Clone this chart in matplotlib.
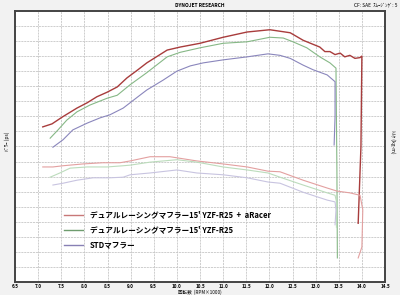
import matplotlib
matplotlib.use("Agg")
import matplotlib.pyplot as plt

plt.rcParams['font.family'] = ['Noto Sans CJK JP', 'DejaVu Sans']

# power (ps) vs rpm x1000
rpm_red = [7.10, 7.30, 7.52, 7.84, 8.06, 8.27, 8.49, 8.71, 8.92, 9.16, 9.35, 9.79, 10.07, 10.50,
           11.00, 11.52, 12.01, 12.45, 12.73, 13.09, 13.20, 13.31, 13.42, 13.53, 13.63, 13.74,
           13.85, 13.96, 14.00, 13.98, 13.92]
pw_red = [20.6, 21.0, 21.9, 23.1, 23.8, 24.6, 25.2, 25.9, 27.1, 28.2, 29.1, 30.8, 31.2, 31.7,
          32.5, 33.2, 33.5, 33.1, 32.1, 31.2, 30.6, 30.6, 30.2, 30.4, 29.9, 30.1,
          29.7, 29.8, 30.0, 18.0, 7.8]

rpm_grn = [7.26, 7.43, 7.62, 7.84, 8.12, 8.49, 8.71, 8.99, 9.35, 9.79, 10.07, 10.50, 11.00, 11.52,
           12.01, 12.30, 12.51, 12.81, 13.09, 13.31, 13.44, 13.46, 13.47]
pw_grn = [19.1, 20.2, 21.5, 22.6, 23.5, 24.4, 24.8, 26.2, 27.8, 29.9, 30.5, 31.1, 31.7, 31.9,
          32.5, 32.4, 31.9, 31.1, 29.9, 29.1, 28.4, 15.0, 3.2]

rpm_blu = [7.32, 7.54, 7.75, 8.06, 8.34, 8.55, 8.84, 9.20, 9.35, 9.70, 10.00, 10.29, 10.57, 11.00,
           11.52, 11.97, 12.23, 12.45, 12.73, 12.94, 13.25, 13.42, 13.42, 13.40]
pw_blu = [17.9, 18.9, 20.2, 21.1, 21.8, 22.2, 23.1, 24.8, 25.5, 26.8, 28.0, 28.7, 29.1, 29.5,
          29.9, 30.3, 30.1, 29.7, 28.8, 28.2, 27.5, 26.6, 22.0, 18.2]

# torque (kg-m) vs rpm x1000
rpm_red_t = [7.10, 7.32, 7.54, 7.97, 8.40, 8.77, 8.99, 9.42, 9.85, 10.43, 11.00, 11.52, 11.97,
             12.23, 12.73, 13.25, 13.46, 13.74, 13.96, 14.02, 14.00, 13.92]
tq_red = [1.91, 1.91, 1.93, 1.96, 1.98, 1.98, 2.01, 2.08, 2.08, 2.01, 1.96, 1.91, 1.84,
          1.83, 1.69, 1.56, 1.51, 1.48, 1.44, 1.20, 0.58, 0.40]

rpm_grn_t = [7.26, 7.47, 7.69, 8.06, 8.49, 8.84, 8.99, 9.42, 10.00, 10.43, 11.00, 11.52, 11.97,
             12.23, 12.73, 13.25, 13.42, 13.46, 13.45]
tq_grn = [1.74, 1.81, 1.89, 1.91, 1.91, 1.93, 1.94, 1.99, 2.03, 1.99, 1.91, 1.86, 1.81,
          1.74, 1.61, 1.48, 1.44, 1.30, 0.91]

rpm_blu_t = [7.32, 7.54, 7.84, 8.19, 8.55, 8.84, 8.99, 9.42, 10.00, 10.43, 11.00, 11.52, 11.97,
             12.23, 12.73, 13.25, 13.42, 13.44, 13.42]
tq_blu = [1.61, 1.64, 1.69, 1.73, 1.73, 1.74, 1.78, 1.81, 1.86, 1.81, 1.78, 1.73, 1.66,
          1.64, 1.49, 1.36, 1.33, 1.20, 0.95]

labels = ["デュアルレーシングマフラー15' YZF-R25  +  aRacer",
          "デュアルレーシングマフラー15' YZF-R25",
          "STDマフラー"]
xticks = [6.5 + 0.5 * i for i in range(17)]

fig = plt.figure(figsize=(4, 2.95), dpi=100, facecolor='#f2f2f2')
ax = fig.add_axes([0.0375, 0.044, 0.925, 0.919])
ax.set_facecolor('white')
ax.set_xlim(6.5, 14.5)
ax.set_ylim(0, 36)
ax.set_xticks(xticks)
ax.set_xticklabels([f"{v:.1f}" for v in xticks], fontsize=3.3, fontweight='bold')
ax.set_yticks(range(0, 37, 2))
ax.set_yticklabels([])
ax.tick_params(length=0, pad=1.5)
ax.grid(True, color='#c6c6c6', linestyle=(0, (2.5, 1)), linewidth=0.6)
for s in ax.spines.values():
    s.set_color('#444444')
    s.set_linewidth(1.4)

ax2 = ax.twinx()
ax2.set_ylim(0, 4.5)
ax2.set_yticks([])
for s in ax2.spines.values():
    s.set_visible(False)

ax.plot(rpm_red, pw_red, color='#a83c3c', lw=1.0)
ax.plot(rpm_grn, pw_grn, color='#86b886', lw=0.8)
ax.plot(rpm_blu, pw_blu, color='#8a86bc', lw=0.8)
ax2.plot(rpm_red_t, tq_red, color='#e3a0a0', lw=0.8)
ax2.plot(rpm_grn_t, tq_grn, color='#bcdcbc', lw=0.8)
ax2.plot(rpm_blu_t, tq_blu, color='#c8c4e0', lw=0.8)

h = [plt.Line2D([], [], color=c, lw=1.0) for c in ['#c87878', '#6e9c6e', '#8880b4']]
leg = ax2.legend(h, labels, loc='upper left', bbox_to_anchor=(0.115, 0.29), frameon=False,
                 handlelength=2.4, labelspacing=0.8, handletextpad=0.9,
                 prop={'size': 5.5, 'weight': 'bold'})

fig.text(0.5, 0.983, "DYNOJET RESEARCH", ha='center', va='center', fontsize=3.5, fontweight='bold')
fig.text(0.995, 0.983, "CF: SAE  ｽﾑｰｼﾞﾝｸﾞ: 5", ha='right', va='center', fontsize=3.5)
fig.text(0.5, 0.01, "回転数  (RPM×1000)", ha='center', va='center', fontsize=3.3)
fig.text(0.018, 0.52, "ﾊﾟﾜｰ (ps)", ha='center', va='center', rotation=90, fontsize=3.5)
fig.text(0.983, 0.52, "ﾄﾙｸ (kg-m)", ha='center', va='center', rotation=270, fontsize=3.5)

fig.savefig("out.png", dpi=100, facecolor=fig.get_facecolor())
